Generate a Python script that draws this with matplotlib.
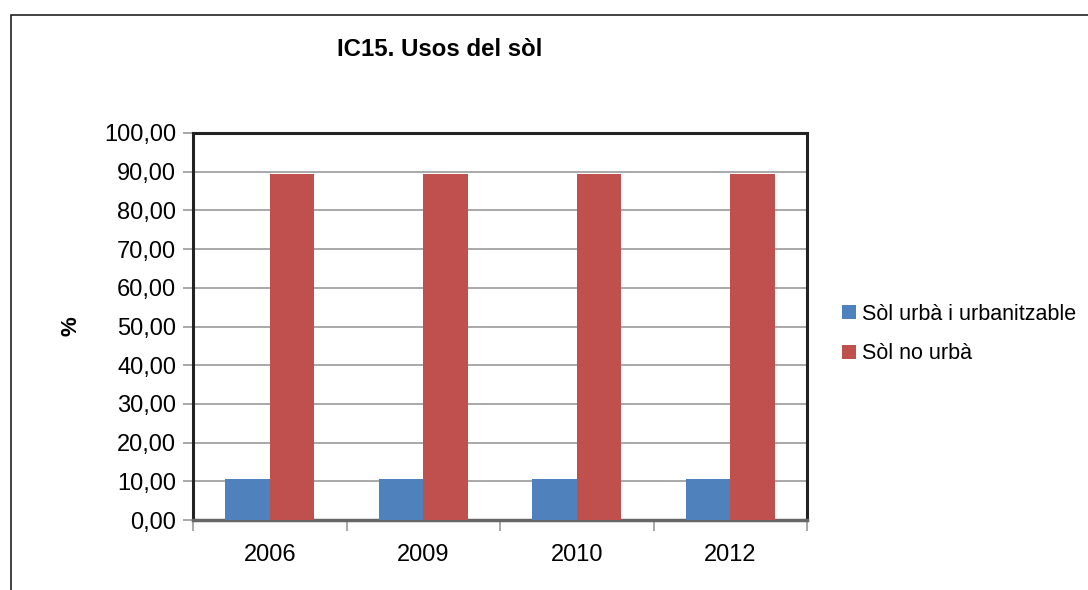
import matplotlib
matplotlib.use("Agg")
import matplotlib.pyplot as plt
import numpy as np
from matplotlib.patches import Rectangle
from matplotlib.ticker import FuncFormatter

plt.rcParams['font.family'] = ['Liberation Sans', 'DejaVu Sans']

years = ['2006', '2009', '2010', '2012']
urba = [10.7, 10.7, 10.7, 10.7]
no_urba = [89.3, 89.3, 89.3, 89.3]
series_names = ['Sòl urbà i urbanitzable', 'Sòl no urbà']
colors = ['#4F81BD', '#C0504D']

W, H = 1088, 590
fig = plt.figure(figsize=(W/100, H/100), dpi=100)
fig.patches.append(Rectangle((11/W, -0.2), 1.2, 1.2 - 15/H, transform=fig.transFigure,
                             fill=False, edgecolor='#222222', linewidth=1.2))

ax = fig.add_axes([193/W, 1 - 520/H, (807-193)/W, (520-133)/H])
x = np.arange(len(years))
bw = 0.29
ax.bar(x - bw/2, urba, bw, color=colors[0], label=series_names[0], zorder=3)
ax.bar(x + bw/2, no_urba, bw, color=colors[1], label=series_names[1], zorder=3)

ax.set_xlim(-0.5, len(years) - 0.5)
ax.set_ylim(0, 100)
ax.set_yticks(np.arange(0, 101, 10))
ax.yaxis.set_major_formatter(FuncFormatter(lambda v, p: f"{v:.2f}".replace('.', ',')))
ax.grid(axis='y', color='#999999', linewidth=1.2, zorder=0)
ax.set_xticks(x)
ax.set_xticklabels(years)
ax.set_xticks(np.arange(-0.5, len(years)), minor=True)
ax.tick_params(axis='x', which='major', length=0, pad=17, labelsize=17)
ax.tick_params(axis='x', which='minor', length=8, color='#999999', width=1.2)
ax.tick_params(axis='y', length=7, color='#999999', width=1.2, labelsize=17, pad=5)
for s in ['left', 'top', 'right']:
    ax.spines[s].set_color('#222222')
    ax.spines[s].set_linewidth(2.2)
ax.spines['bottom'].set_color('#666666')
ax.spines['bottom'].set_linewidth(2.5)

ax.set_ylabel('%', fontsize=16, fontweight='bold', labelpad=16)
fig.text(440/W, 1 - 50/H, 'IC15. Usos del sòl', fontsize=17.3, fontweight='bold',
         ha='center', va='center')

ax.legend(loc='center left', bbox_to_anchor=(823/W, 1 - 334/H), bbox_transform=fig.transFigure,
          frameon=False, fontsize=15.5, handlelength=0.62, handleheight=0.62,
          handletextpad=0.3, labelspacing=0.85)

fig.savefig('out.png', dpi=100)
